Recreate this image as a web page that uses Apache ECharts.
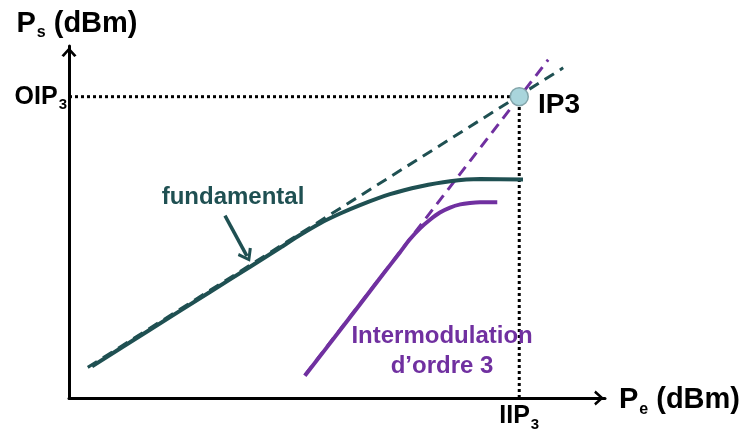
<!DOCTYPE html>
<html>
<head>
<meta charset="utf-8">
<script src="https://cdn.jsdelivr.net/npm/echarts@6/dist/echarts.min.js"></script>
<style>
  html, body { margin: 0; padding: 0; background: #ffffff; }
  #chart { width: 750px; height: 432px; }
</style>
</head>
<body>
<div id="chart"></div>
<script>
// Third-order intercept point (IP3) diagram: output power vs input power.
const IIP3 = 84;     // input intercept (x)
const OIP3 = 85.6;   // output intercept (y)

// Fundamental output (compresses at high input)
const fundamentalCurve = [
  [4.3, 9.0], [15.1, 19.4], [26.3, 30.1], [33.8, 37.3], [39.4, 42.7],
  [43.1, 46.3], [46.8, 49.6], [50.6, 52.4], [54.3, 54.8], [59.9, 57.9],
  [65.5, 60.1], [71.1, 61.6], [76.7, 62.2], [84.7, 62.1]
];
// Small-signal extrapolation of the fundamental
const fundamentalAsymptote = [[3.5, 8.7], [92.2, 93.8]];

// Third-order intermodulation product
const im3Curve = [
  [44.0, 6.3], [50.6, 19.3], [58.0, 34.0], [61.8, 41.5], [63.6, 45.1],
  [65.5, 48.2], [67.4, 50.7], [69.2, 52.7], [71.1, 54.1], [73.0, 55.0],
  [74.8, 55.4], [76.7, 55.6], [79.9, 55.6]
];
// Small-signal extrapolation of the IM3 product
const im3Asymptote = [[44.0, 6.5], [89.4, 96.1]];

// Pointer towards the fundamental curve
const fundamentalArrow = [[29.1, 51.8], [33.2, 40.3]];

// Curve captions: [x, y, text]
const captions = [
  [30.6, 57.0, 'fundamental'],
  [69.6, 13.2, 'Intermodulation\nd’ordre 3']
];

const TEAL = '#1f5052';
const PURPLE = '#7030a0';
const FONT = '"Liberation Sans", Arial, Helvetica, sans-serif';
const CHEVRON = 'path://M0,11 L10,0 L20,11 L17,13 L10,5 L3,13 Z';

const nameRich = {
  m: { fontFamily: FONT, fontWeight: 'bold', fontSize: 29, color: '#000' },
  s: { fontFamily: FONT, fontWeight: 'bold', fontSize: 16, color: '#000', padding: [19, 0, 0, 1] },
  g: { fontFamily: FONT, fontWeight: 'bold', fontSize: 29, color: '#000', padding: [0, 0, 0, 8] }
};
const labelRich = {
  m: { fontFamily: FONT, fontWeight: 'bold', fontSize: 25, color: '#000' },
  s: { fontFamily: FONT, fontWeight: 'bold', fontSize: 15, color: '#000', padding: [16, 0, 0, 1] }
};

const chart = echarts.init(document.getElementById('chart'), null, { renderer: 'canvas' });

chart.setOption({
  animation: false,
  backgroundColor: '#ffffff',
  grid: { left: 69, right: 145, top: 46, bottom: 31, containLabel: false },
  xAxis: {
    type: 'value', min: 0, max: 100,
    name: '{m|P}{s|e}{g|(dBm)}',
    nameLocation: 'end', nameGap: 14,
    nameTextStyle: { rich: nameRich, verticalAlign: 'middle', padding: [4, 0, 0, 0] },
    axisLine: {
      show: true, symbol: ['none', CHEVRON], symbolSize: [15, 13], symbolOffset: [0, -6],
      lineStyle: { color: '#000', width: 3 }
    },
    axisTick: { show: false },
    splitLine: { show: false },
    axisLabel: {
      customValues: [IIP3], margin: 3,
      formatter: () => '{m|IIP}{s|3}',
      rich: labelRich
    }
  },
  yAxis: {
    type: 'value', min: 0, max: 100,
    name: '{m|P}{s|s}{g|(dBm)}',
    nameLocation: 'end', nameGap: 5,
    nameTextStyle: { rich: nameRich, padding: [0, 0, 0, 16] },
    axisLine: {
      show: true, symbol: ['none', CHEVRON], symbolSize: [15, 13], symbolOffset: [0, -6],
      lineStyle: { color: '#000', width: 3 }
    },
    axisTick: { show: false },
    splitLine: { show: false },
    axisLabel: {
      customValues: [OIP3], margin: 2,
      formatter: () => '{m|OIP}{s|3}',
      rich: labelRich
    }
  },
  series: [
    {
      name: 'OIP3 level', type: 'line', silent: true, showSymbol: false, z: 1,
      data: [[0, OIP3], [IIP3, OIP3]],
      lineStyle: { color: '#000', width: 3, type: [3, 3] }
    },
    {
      name: 'IIP3 level', type: 'line', silent: true, showSymbol: false, z: 1,
      data: [[IIP3, 0], [IIP3, OIP3]],
      lineStyle: { color: '#000', width: 3, type: [3, 3] }
    },
    {
      name: 'fundamental asymptote', type: 'line', silent: true, showSymbol: false, z: 2,
      data: fundamentalAsymptote,
      lineStyle: { color: TEAL, width: 3, type: [11, 7] }
    },
    {
      name: 'IM3 asymptote', type: 'line', silent: true, showSymbol: false, z: 2,
      data: im3Asymptote,
      lineStyle: { color: PURPLE, width: 3, type: [11, 7] }
    },
    {
      name: 'fundamental', type: 'line', silent: true, showSymbol: false, z: 3,
      smooth: 0.25,
      data: fundamentalCurve,
      lineStyle: { color: TEAL, width: 4 },
      markLine: {
        silent: true, animation: false,
        symbol: ['none', CHEVRON], symbolSize: [16, 13],
        label: { show: false },
        lineStyle: { color: TEAL, width: 3.5, type: 'solid' },
        data: [[{ coord: fundamentalArrow[0] }, { coord: fundamentalArrow[1] }]]
      }
    },
    {
      name: 'IM3', type: 'line', silent: true, showSymbol: false, z: 3,
      smooth: 0.25,
      data: im3Curve,
      lineStyle: { color: PURPLE, width: 4 }
    },
    {
      name: 'IP3', type: 'scatter', silent: true, z: 5,
      data: [[IIP3, OIP3]],
      symbolSize: 18,
      itemStyle: { color: '#a9d5dc', borderColor: '#83a5aa', borderWidth: 1.5, opacity: 1 },
      label: {
        show: true, position: 'right', distance: 9, offset: [0, 9],
        formatter: 'IP3',
        fontFamily: FONT, fontWeight: 'bold', fontSize: 28, color: '#000'
      }
    },
    {
      name: 'captions', type: 'scatter', silent: true, z: 6,
      symbolSize: 0,
      itemStyle: { opacity: 1 },
      data: captions.map((c, i) => ({
        value: [c[0], c[1]],
        name: c[2],
        label: { color: i === 0 ? TEAL : PURPLE }
      })),
      label: {
        show: true, position: 'inside', formatter: '{b}',
        fontFamily: FONT, fontWeight: 'bold', fontSize: 24,
        lineHeight: 30, align: 'center', verticalAlign: 'middle'
      }
    }
  ]
});
</script>
</body>
</html>
